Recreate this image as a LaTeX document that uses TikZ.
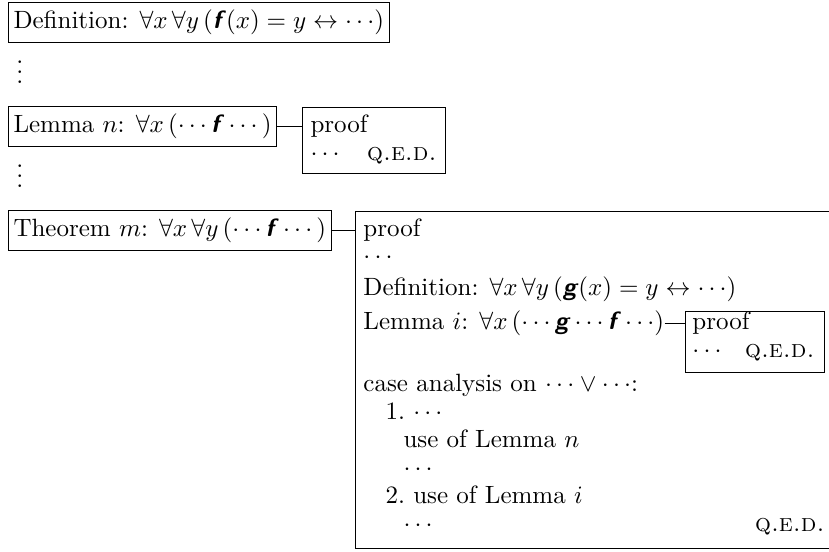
\documentclass[tikz,border=0pt]{standalone}
\newcommand\sff{\textsf{\bfseries\itshape f\/}}
\newcommand\sfg{\textsf{\bfseries\itshape g\/}}
\newcommand\myqed{\textsc{q.e.d.}}
\begin{document}
\begin{tikzpicture}[x=0.4pt,y=-0.4pt,
  stmt/.style={draw, anchor=north west, inner xsep=2pt, inner ysep=0pt,
    text height=10.4pt, text depth=5.6pt, align=left},
  pbox/.style={draw, anchor=north west, inner sep=0pt},
  txt/.style={anchor=base west, inner sep=0pt},
  rtxt/.style={anchor=base east, inner sep=0pt},
  conn/.style={draw}]
\useasboundingbox (0,0) rectangle (829,552);

% top-level statements
\node[stmt] (def) at (8,2) {Definition: $\forall x\,\forall y\,(\sff(x)=y\leftrightarrow\cdots)$};
\node[txt] (vd1) at (16,84) {$\vdots$};
\node[stmt] (lemn) at (8,106) {Lemma $n$: $\forall x\,(\cdots\sff\cdots\,)$};
\node[txt] (vd2) at (16,188) {$\vdots$};
\node[stmt] (thm) at (8,210) {Theorem $m$: $\forall x\,\forall y\,(\cdots\sff\cdots\,)$};

% proof of Lemma n
\node[pbox, minimum width=57.2pt, minimum height=26.4pt] (lpbox) at (302,107) {};
\node[txt] (lp1) at (310,133) {proof};
\node[txt] (lp2) at (310,161) {$\cdots$};
\node[rtxt] (lp3) at (437,161) {\myqed};
\draw[conn] (lemn.east) -- (lemn.east -| lpbox.west);

% proof of Theorem m
\node[pbox, minimum width=192pt, minimum height=134.8pt] (tpbox) at (355,211) {};
\draw[conn] (thm.east) -- (thm.east -| tpbox.west);
\node[txt] (t1) at (363,237) {proof};
\node[txt] (t2) at (363,264) {$\cdots$};
\node[txt] (t3) at (363,296) {Definition: $\forall x\,\forall y\,(\sfg(x)=y\leftrightarrow\cdots)$};
\node[txt] (t4) at (363,330) {Lemma $i$: $\forall x\,(\cdots\sfg\cdots\sff\cdots)$};
\node[pbox, minimum width=55.6pt, minimum height=24.4pt] (ipbox) at (685,311) {};
\node[txt] (ip1) at (692,330) {proof};
\node[txt] (ip2) at (692,358) {$\cdots$};
\node[rtxt] (ip3) at (815,358) {\myqed};
\draw[conn] ([yshift=2.5pt]t4.base east) -- ([yshift=2.5pt]t4.base east -| ipbox.west);
\node[txt] (t5) at (363,392) {case analysis on $\cdots\vee\cdots$:};
\node[txt] (c1) at (385,420) {1.\ $\cdots$};
\node[txt] (c2) at (403,448) {use of Lemma $n$};
\node[txt] (c3) at (403,476) {$\cdots$};
\node[txt] (c4) at (385,504) {2.\ use of Lemma $i$};
\node[txt] (c5) at (403,532) {$\cdots$};
\node[rtxt] (tq) at (825,532) {\myqed};
\end{tikzpicture}
\end{document}
